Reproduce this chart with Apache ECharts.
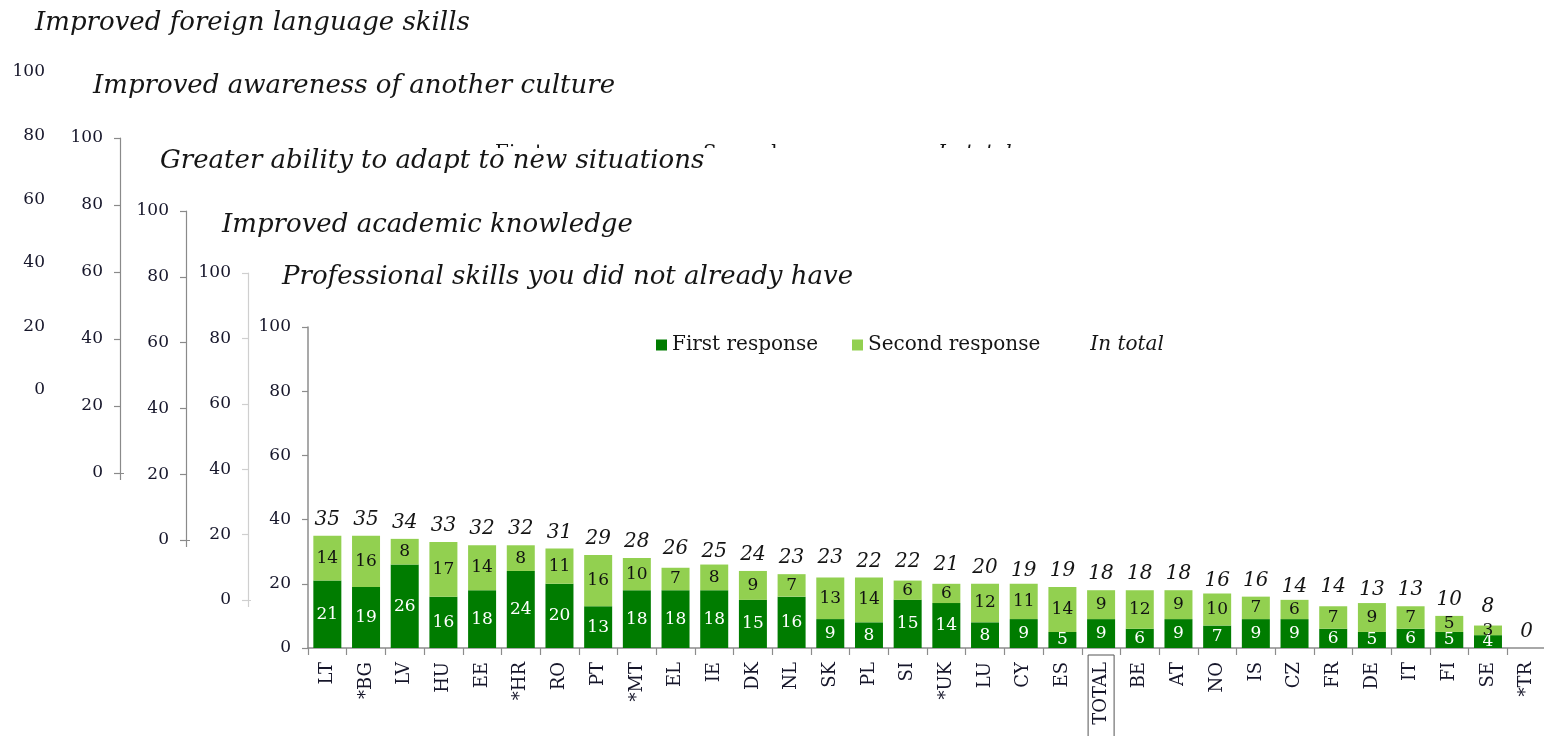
<!DOCTYPE html>
<html>
<head>
<meta charset="utf-8">
<title>Professional skills you did not already have</title>
<script src="https://cdn.jsdelivr.net/npm/echarts@6/dist/echarts.min.js"></script>
<style>
  html, body { margin: 0; padding: 0; background: #fff; }
  #chart { width: 1544px; height: 736px; }
</style>
</head>
<body>
<div id="chart"></div>
<script>
// Countries, in the order of the bars (TOTAL is the all-country average)
const countries = ['LT', '*BG', 'LV', 'HU', 'EE', '*HR', 'RO', 'PT', '*MT', 'EL', 'IE', 'DK', 'NL', 'SK', 'PL', 'SI',
  '*UK', 'LU', 'CY', 'ES', 'TOTAL', 'BE', 'AT', 'NO', 'IS', 'CZ', 'FR', 'DE', 'IT', 'FI', 'SE', '*TR'];

// Share of respondents (%) naming the item as first / second response, and the rounded total
const firstResponse = [21, 19, 26, 16, 18, 24, 20, 13, 18, 18, 18, 15, 16, 9, 8, 15,
  14, 8, 9, 5, 9, 6, 9, 7, 9, 9, 6, 5, 6, 5, 4, 0];
const secondResponse = [14, 16, 8, 17, 14, 8, 11, 16, 10, 7, 8, 9, 7, 13, 14, 6,
  6, 12, 11, 14, 9, 12, 9, 10, 7, 6, 7, 9, 7, 5, 3, 0];
const inTotal = [35, 35, 34, 33, 32, 32, 31, 29, 28, 26, 25, 24, 23, 23, 22, 22,
  21, 20, 19, 19, 18, 18, 18, 16, 16, 14, 14, 13, 13, 10, 8, 0];

// The stacked sheets, back to front; only the last one shows its bars
const panelTitles = [
  'Improved foreign language skills',
  'Improved awareness of another culture',
  'Greater ability to adapt to new situations',
  'Improved academic knowledge',
  'Professional skills you did not already have'
];
const legendNames = ['First response', 'Second response', 'In total'];

const SERIF = '"DejaVu Serif", "Liberation Serif", serif';
const INK = '#16162a';
const DARK_GREEN = '#007c00';
const LIGHT_GREEN = '#92d050';

// Sheet geometry: plot origin and size, title anchor, white sheet corner, axis colour
const sheets = [
  { left: 62,  top: 72,  height: 318, titleX: 35,  titleY: 23,  sheetX: 0,   sheetY: 0,   axis: '#8a8a8a' },
  { left: 120, top: 138, height: 335, titleX: 93,  titleY: 86,  sheetX: 54,  sheetY: 40,  axis: '#8a8a8a' },
  { left: 186, top: 211, height: 329, titleX: 160, titleY: 161, sheetX: 124, sheetY: 148, axis: '#8a8a8a' },
  { left: 248, top: 273, height: 327, titleX: 222, titleY: 225, sheetX: 190, sheetY: 196, axis: '#cfcfcf' },
  { left: 308, top: 327, height: 321, titleX: 282, titleY: 277, sheetX: 251, sheetY: 252, axis: '#8c8c8c' }
];

const grids = [], xAxes = [], yAxes = [], elements = [];

sheets.forEach((s, i) => {
  const front = i === sheets.length - 1;
  const zBase = i * 2 + 1;
  grids.push({
    left: s.left, top: s.top, height: s.height,
    width: front ? 1238 : 1200,
    outerBoundsMode: 'none',
    containLabel: false
  });
  yAxes.push({
    type: 'value', gridIndex: i, min: 0, max: 100, interval: 20, z: zBase + 1,
    axisLine: { show: true, lineStyle: { color: s.axis, width: front ? 1.5 : 1.2 } },
    axisTick: { show: true, inside: false, length: 6, lineStyle: { color: s.axis, width: 1.2 } },
    splitLine: { show: false },
    axisLabel: { margin: 17, fontFamily: SERIF, fontSize: 17, color: INK }
  });
  xAxes.push({
    type: 'category', gridIndex: i, data: countries, z: zBase + 1,
    axisLine: { show: true, lineStyle: { color: s.axis, width: front ? 1.5 : 1.2 } },
    axisTick: { show: true, length: 7, alignWithLabel: false, lineStyle: { color: s.axis, width: 1.2 } },
    splitLine: { show: false },
    axisLabel: front ? {
      show: true, interval: 0, rotate: 90, margin: 7,
      fontFamily: SERIF, fontSize: 18, color: INK,
      formatter: v => (v === 'TOTAL' ? '{box|' + v + '}' : '{plain|' + v + '}'),
      rich: {
        plain: { fontFamily: SERIF, fontSize: 18, color: INK, lineHeight: 20, padding: [4, 7, 4, 14] },
        box: {
          fontFamily: SERIF, fontSize: 18, color: INK, lineHeight: 20, padding: [4, 7, 4, 14],
          borderColor: '#555', borderWidth: 1
        }
      }
    } : { show: false }
  });
  // white sheet that hides whatever lies behind it
  if (i > 0) {
    elements.push({
      type: 'rect', z: zBase,
      shape: { x: s.sheetX, y: s.sheetY, width: 1544 - s.sheetX + 10, height: 736 - s.sheetY + 10 },
      style: { fill: '#ffffff' }
    });
  }
  elements.push({
    type: 'text', z: zBase + 1, x: s.titleX, y: s.titleY,
    style: { text: panelTitles[i], font: 'italic 26px ' + SERIF, fill: '#151515', verticalAlign: 'middle', align: 'left' }
  });
});

// legend of the second sheet, tucked under the third one
[[495, legendNames[0], 'normal'], [703, legendNames[1], 'normal'], [938, legendNames[2], 'italic']].forEach(([x, t, st]) => {
  elements.push({
    type: 'text', z: 4, x: x, y: 144,
    style: { text: t, font: st + ' 20px ' + SERIF, fill: '#151515', verticalAlign: 'top', align: 'left' }
  });
});

const FRONT = sheets.length - 1;
const hideZero = p => (p.value ? String(p.value) : '');

const option = {
  backgroundColor: '#ffffff',
  animation: false,
  grid: grids,
  xAxis: xAxes,
  yAxis: yAxes,
  graphic: { elements: elements },
  legend: {
    left: 651, top: 330, z: 20,
    orient: 'horizontal',
    itemWidth: 11, itemHeight: 11, itemGap: 34,
    selectedMode: false,
    textStyle: { fontFamily: SERIF, fontSize: 20, color: '#151515' },
    data: [
      { name: legendNames[0], icon: 'rect' },
      { name: legendNames[1], icon: 'rect' },
      { name: legendNames[2], icon: 'rect', textStyle: { fontStyle: 'italic' } }
    ]
  },
  series: [
    {
      name: legendNames[0], type: 'bar', stack: 'response',
      xAxisIndex: FRONT, yAxisIndex: FRONT, z: 12,
      data: firstResponse, barWidth: 28, barGap: '-100%',
      itemStyle: { color: DARK_GREEN },
      label: { show: true, position: 'inside', color: '#ffffff', fontFamily: SERIF, fontSize: 17, formatter: hideZero }
    },
    {
      name: legendNames[1], type: 'bar', stack: 'response',
      xAxisIndex: FRONT, yAxisIndex: FRONT, z: 12,
      data: secondResponse, barWidth: 28, barGap: '-100%',
      itemStyle: { color: LIGHT_GREEN },
      label: { show: true, position: 'inside', color: '#111111', fontFamily: SERIF, fontSize: 17, formatter: hideZero }
    },
    {
      name: legendNames[2], type: 'bar',
      xAxisIndex: FRONT, yAxisIndex: FRONT, z: 11, silent: true,
      data: inTotal, barWidth: 28, barGap: '-100%',
      itemStyle: { color: 'rgba(0,0,0,0)' },
      label: { show: true, position: 'top', distance: 6, color: '#151515', fontFamily: SERIF, fontSize: 20, fontStyle: 'italic' }
    }
  ]
};

const chart = echarts.init(document.getElementById('chart'), null, { renderer: 'canvas' });
chart.setOption(option);
</script>
</body>
</html>
